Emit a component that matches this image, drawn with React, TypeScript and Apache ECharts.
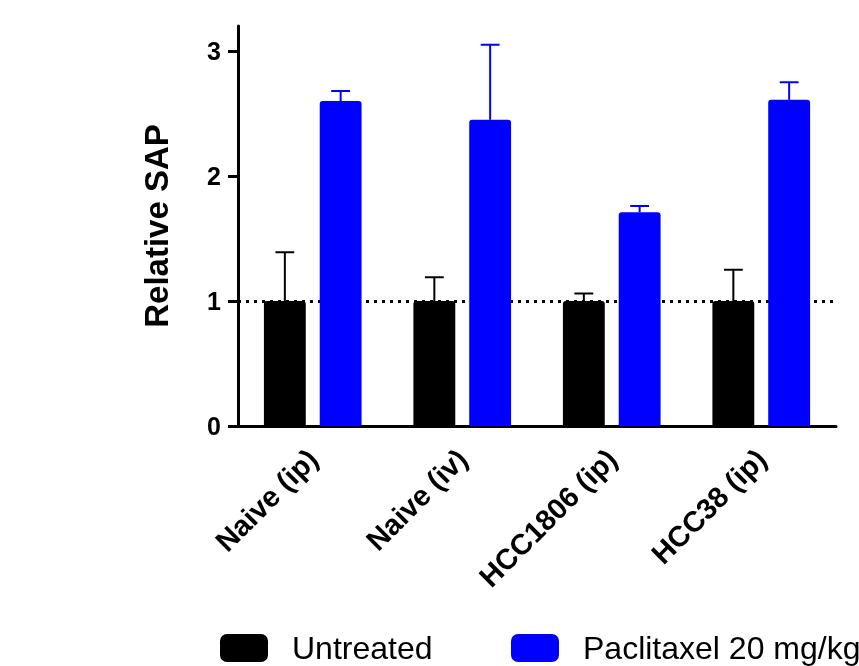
import React, { useEffect, useRef } from "react";
import * as echarts from "echarts";

const categories = ["Naive (ip)", "Naive (iv)", "HCC1806 (ip)", "HCC38 (ip)"];
const untreated = [1.0, 1.0, 1.0, 1.0];
const untreatedErr = [0.39, 0.19, 0.06, 0.25];
const paclitaxel = [2.6, 2.45, 1.71, 2.61];
const paclitaxelErr = [0.08, 0.6, 0.05, 0.14];
const yTicks = [0, 1, 2, 3];
const seriesNames = ["Untreated", "Paclitaxel 20 mg/kg"];

const FONT = "'Liberation Sans', Arial, sans-serif";
const BAR_FRAC = 0.28;
const GAP_FRAC = 1 / 3;

function errorSeries(name: string, values: number[], errs: number[], color: string, side: number) {
  return {
    type: "custom",
    name: name + " err",
    silent: true,
    z: 5,
    legendHoverLink: false,
    data: values.map((v, i) => [i, v, v + errs[i]]),
    encode: { x: 0, y: [1, 2] },
    renderItem: (params: any, api: any) => {
      const idx = api.value(0);
      const lo = api.coord([idx, api.value(1)]);
      const hi = api.coord([idx, api.value(2)]);
      const band = api.size([1, 0])[0];
      const bw = band * BAR_FRAC;
      const off = side * (bw + bw * GAP_FRAC) / 2;
      const x = lo[0] + off;
      const cap = bw * 0.45;
      return {
        type: "group",
        children: [
          { type: "line", shape: { x1: x, y1: lo[1], x2: x, y2: hi[1] }, style: { stroke: color, lineWidth: 2 } },
          { type: "line", shape: { x1: x - cap / 2, y1: hi[1], x2: x + cap / 2, y2: hi[1] }, style: { stroke: color, lineWidth: 2 } },
        ],
      };
    },
  };
}

function legendFor(name: string, left: number) {
  return {
    left,
    top: 627,
    itemWidth: 48,
    itemHeight: 28,
    selectedMode: false,
    data: [{ name, icon: "roundRect" }],
    textStyle: { fontSize: 32, color: "#000", fontFamily: FONT, padding: [0, 0, 0, 19] },
  };
}

export default function App() {
  const ref = useRef<HTMLDivElement>(null);
  useEffect(() => {
    if (!ref.current) return;
    const chart = echarts.init(ref.current, undefined, { renderer: "svg" });
    chart.setOption({
      animation: false,
      textStyle: { fontFamily: FONT },
      grid: { left: 238, right: 23, top: 26, bottom: 240, containLabel: false },
      legend: [legendFor(seriesNames[0], 215), legendFor(seriesNames[1], 506)],
      xAxis: {
        type: "category",
        data: categories,
        axisLine: { lineStyle: { color: "#000", width: 3 } },
        axisTick: { alignWithLabel: true, length: 11, lineStyle: { color: "#000", width: 3 } },
        axisLabel: {
          rotate: 45,
          margin: 28,
          fontSize: 29,
          fontWeight: "bold",
          color: "#000",
          fontFamily: FONT,
        },
      },
      yAxis: {
        type: "value",
        min: 0,
        max: 3.2,
        interval: 1,
        name: "Relative SAP",
        nameLocation: "middle",
        nameGap: 65,
        nameTextStyle: { fontSize: 33, fontWeight: "bold", color: "#000", fontFamily: FONT },
        splitLine: { show: false },
        axisLine: { show: true, lineStyle: { color: "#000", width: 3 } },
        axisTick: { show: true, length: 10, customValues: yTicks, lineStyle: { color: "#000", width: 3 } },
        axisLabel: {
          customValues: yTicks,
          margin: 17,
          fontSize: 25,
          fontWeight: "bold",
          color: "#000",
          fontFamily: FONT,
        },
      },
      series: [
        {
          name: seriesNames[0],
          type: "bar",
          data: untreated,
          barWidth: BAR_FRAC * 100 + "%",
          barGap: GAP_FRAC * 100 + "%",
          itemStyle: { color: "#000000", borderRadius: [3, 3, 0, 0] },
          z: 3,
          markLine: {
            silent: true,
            symbol: "none",
            label: { show: false },
            z: 1,
            lineStyle: { color: "#000", width: 3, type: [3, 5] },
            data: [{ yAxis: 1 }],
          },
        },
        {
          name: seriesNames[1],
          type: "bar",
          data: paclitaxel,
          barWidth: BAR_FRAC * 100 + "%",
          barGap: GAP_FRAC * 100 + "%",
          itemStyle: { color: "#0000FF", borderRadius: [3, 3, 0, 0] },
          z: 3,
        },
        errorSeries(seriesNames[0], untreated, untreatedErr, "#000000", -1),
        errorSeries(seriesNames[1], paclitaxel, paclitaxelErr, "#0000FF", 1),
      ],
    });
    return () => chart.dispose();
  }, []);
  return <div ref={ref} style={{ position: "fixed", left: 0, top: 0, width: 859, height: 666 }} />;
}
